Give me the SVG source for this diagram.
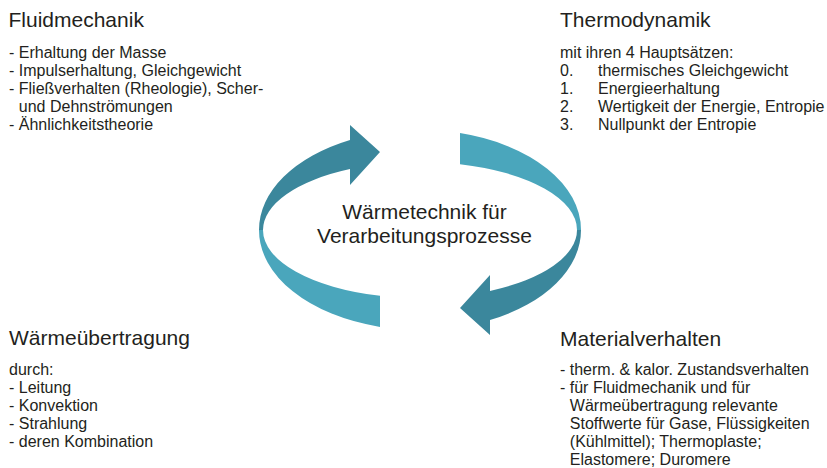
<svg xmlns="http://www.w3.org/2000/svg" width="827" height="468" viewBox="0 0 827 468">
  <style>
    text { font-family: "Liberation Sans", Arial, sans-serif; fill: #231f20; }
    .title { font-size: 21px; }
    .body { font-size: 16px; }
    .center { font-size: 21px; text-anchor: middle; }
    .dark { fill: #3b879c; }
    .light { fill: #4aa6bc; }
  </style>
  <rect width="827" height="468" fill="#ffffff"/>

  <!-- Circular ribbon of two arrows around the central topic -->
  <g id="connectors">
    <path class="light" d="M 259 230 A 161 100 0 0 0 380 326.9 L 380 295.8 A 157 68 0 0 1 263 230 Z"/>
    <path class="dark" d="M 259 230 A 161 100 0 0 1 350 139.95 L 350 125 L 380 152 L 350 185 L 350 169.1 A 157 68 0 0 0 263 230 Z"/>
    <path class="light" d="M 460 133.1 A 161 100 0 0 1 581 230 L 577 230 A 157 68 0 0 0 460 164.2 Z"/>
    <path class="dark" d="M 581 230 A 161 100 0 0 1 490 320.05 L 490 335 L 460 308 L 490 275 L 490 290.9 A 157 68 0 0 0 577 230 Z"/>
  </g>

  <g id="center">
    <text class="center" x="424.5" y="219">Wärmetechnik für</text>
    <text class="center" x="424.5" y="243">Verarbeitungsprozesse</text>
  </g>

  <g id="fluidmechanik">
    <text class="title" x="8.5" y="27">Fluidmechanik</text>
    <text class="body">
      <tspan x="9" y="58">- Erhaltung der Masse</tspan>
      <tspan x="9" y="76">- Impulserhaltung, Gleichgewicht</tspan>
      <tspan x="9" y="94">- Fließverhalten (Rheologie), Scher-</tspan>
      <tspan x="18.8" y="112">und Dehnströmungen</tspan>
      <tspan x="9" y="130">- Ähnlichkeitstheorie</tspan>
    </text>
  </g>

  <g id="thermodynamik">
    <text class="title" x="560" y="27">Thermodynamik</text>
    <text class="body">
      <tspan x="560" y="58">mit ihren 4 Hauptsätzen:</tspan>
      <tspan x="560" y="76">0.</tspan><tspan x="598" y="76">thermisches Gleichgewicht</tspan>
      <tspan x="560" y="94">1.</tspan><tspan x="598" y="94">Energieerhaltung</tspan>
      <tspan x="560" y="112">2.</tspan><tspan x="598" y="112">Wertigkeit der Energie, Entropie</tspan>
      <tspan x="560" y="130">3.</tspan><tspan x="598" y="130">Nullpunkt der Entropie</tspan>
    </text>
  </g>

  <g id="waermeuebertragung">
    <text class="title" x="9" y="345">Wärmeübertragung</text>
    <text class="body">
      <tspan x="9" y="375">durch:</tspan>
      <tspan x="9" y="393">- Leitung</tspan>
      <tspan x="9" y="411">- Konvektion</tspan>
      <tspan x="9" y="429">- Strahlung</tspan>
      <tspan x="9" y="447">- deren Kombination</tspan>
    </text>
  </g>

  <g id="materialverhalten">
    <text class="title" x="560" y="346">Materialverhalten</text>
    <text class="body">
      <tspan x="560" y="375">- therm. &amp; kalor. Zustandsverhalten</tspan>
      <tspan x="560" y="393">- für Fluidmechanik und für</tspan>
      <tspan x="569.8" y="411">Wärmeübertragung relevante</tspan>
      <tspan x="569.8" y="429">Stoffwerte für Gase, Flüssigkeiten</tspan>
      <tspan x="569.8" y="447">(Kühlmittel); Thermoplaste;</tspan>
      <tspan x="569.8" y="465">Elastomere; Duromere</tspan>
    </text>
  </g>
</svg>
